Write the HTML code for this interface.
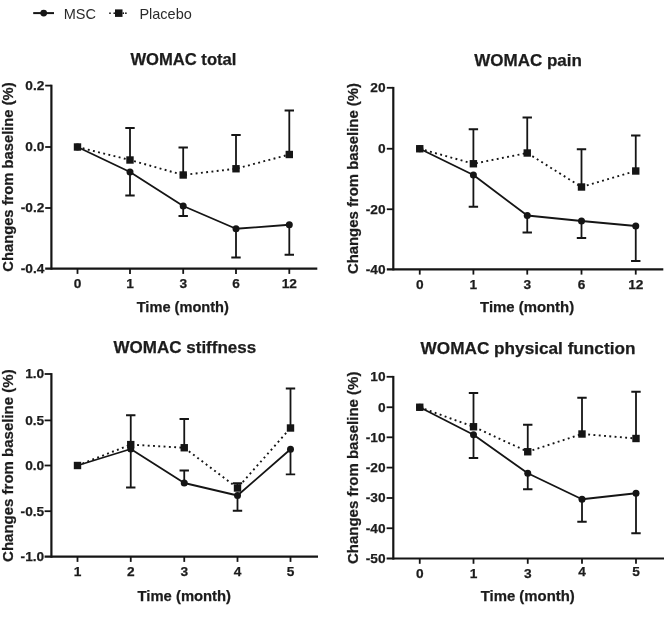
<!DOCTYPE html>
<html><head><meta charset="utf-8"><title>WOMAC changes from baseline</title>
<style>html,body{margin:0;padding:0;background:#fff;}body{width:672px;height:633px;overflow:hidden;font-family:"Liberation Sans",sans-serif;}svg{display:block;filter:blur(0.55px);}text{font-family:"Liberation Sans",sans-serif;fill:#1c1c1c;}text[font-weight=bold]{stroke:#1c1c1c;stroke-width:0.25px;}</style>
</head><body>
<svg width="672" height="633" viewBox="0 0 672 633">
<rect width="672" height="633" fill="#ffffff"/>
<g>
<line x1="33.2" y1="13.1" x2="54" y2="13.1" stroke="#151515" stroke-width="2"/>
<circle cx="43.7" cy="13.1" r="3.4" fill="#151515"/>
<text x="63.7" y="18.5" font-size="14.5" style="fill:#2b2b2b">MSC</text>
<circle cx="110.0" cy="13.2" r="0.85" fill="#151515"/>
<circle cx="114.2" cy="13.2" r="0.85" fill="#151515"/>
<circle cx="123.3" cy="13.2" r="0.85" fill="#151515"/>
<circle cx="125.9" cy="13.2" r="0.85" fill="#151515"/>
<rect x="115" y="9.4" width="7.5" height="7.5" fill="#151515"/>
<text x="139.4" y="18.5" font-size="14.5" style="fill:#2b2b2b">Placebo</text>
</g>
<g>
<text x="183.4" y="65" font-size="16.6" font-weight="bold" text-anchor="middle">WOMAC total</text>
<text x="182.8" y="311.7" font-size="14.6" font-weight="bold" text-anchor="middle">Time (month)</text>
<text transform="translate(13.4 177.05) rotate(-90)" font-size="14.75" font-weight="bold" text-anchor="middle">Changes from baseline (%)</text>
<path d="M51.4 84.7 V269.7" stroke="#151515" stroke-width="2.2" fill="none"/>
<path d="M45.2 268.6 H317.3" stroke="#151515" stroke-width="2.2" fill="none"/>
<path d="M45.2 85.6 H51.4" stroke="#151515" stroke-width="1.8" fill="none"/>
<text x="44.4" y="90.0" font-size="13.7" font-weight="bold" text-anchor="end">0.2</text>
<path d="M45.2 147 H51.4" stroke="#151515" stroke-width="1.8" fill="none"/>
<text x="44.4" y="151.4" font-size="13.7" font-weight="bold" text-anchor="end">0.0</text>
<path d="M45.2 208 H51.4" stroke="#151515" stroke-width="1.8" fill="none"/>
<text x="44.4" y="212.4" font-size="13.7" font-weight="bold" text-anchor="end">-0.2</text>
<text x="44.4" y="273.0" font-size="13.7" font-weight="bold" text-anchor="end">-0.4</text>
<path d="M77.5 268.6 V273.90000000000003" stroke="#151515" stroke-width="1.8" fill="none"/>
<text x="77.5" y="288.15" font-size="13.7" font-weight="bold" text-anchor="middle">0</text>
<path d="M130 268.6 V273.90000000000003" stroke="#151515" stroke-width="1.8" fill="none"/>
<text x="130" y="288.15" font-size="13.7" font-weight="bold" text-anchor="middle">1</text>
<path d="M183.2 268.6 V273.90000000000003" stroke="#151515" stroke-width="1.8" fill="none"/>
<text x="183.2" y="288.15" font-size="13.7" font-weight="bold" text-anchor="middle">3</text>
<path d="M236 268.6 V273.90000000000003" stroke="#151515" stroke-width="1.8" fill="none"/>
<text x="236" y="288.15" font-size="13.7" font-weight="bold" text-anchor="middle">6</text>
<path d="M289.3 268.6 V273.90000000000003" stroke="#151515" stroke-width="1.8" fill="none"/>
<text x="289.3" y="288.15" font-size="13.7" font-weight="bold" text-anchor="middle">12</text>
<path d="M130 160 V128 M125.3 128 H134.7" stroke="#151515" stroke-width="1.8" fill="none"/>
<path d="M183.2 175 V147.5 M178.5 147.5 H187.89999999999998" stroke="#151515" stroke-width="1.8" fill="none"/>
<path d="M236 168.75 V135 M231.3 135 H240.7" stroke="#151515" stroke-width="1.8" fill="none"/>
<path d="M289.3 154.5 V110.5 M284.6 110.5 H294.0" stroke="#151515" stroke-width="1.8" fill="none"/>
<path d="M130 172 V195.5 M125.3 195.5 H134.7" stroke="#151515" stroke-width="1.8" fill="none"/>
<path d="M183.2 206 V216 M178.5 216 H187.89999999999998" stroke="#151515" stroke-width="1.8" fill="none"/>
<path d="M236 228.75 V257.5 M231.3 257.5 H240.7" stroke="#151515" stroke-width="1.8" fill="none"/>
<path d="M289.3 224.75 V254.75 M284.6 254.75 H294.0" stroke="#151515" stroke-width="1.8" fill="none"/>
<polyline points="77.5,147 130,160 183.2,175 236,168.75 289.3,154.5" stroke="#151515" stroke-width="1.9" stroke-dasharray="1.9 3.4" fill="none"/>
<polyline points="77.5,147 130,172 183.2,206 236,228.75 289.3,224.75" stroke="#151515" stroke-width="1.8" stroke-linejoin="round" fill="none"/>
<circle cx="77.5" cy="147" r="3.5" fill="#151515"/>
<circle cx="130" cy="172" r="3.5" fill="#151515"/>
<circle cx="183.2" cy="206" r="3.5" fill="#151515"/>
<circle cx="236" cy="228.75" r="3.5" fill="#151515"/>
<circle cx="289.3" cy="224.75" r="3.5" fill="#151515"/>
<rect x="73.8" y="143.3" width="7.4" height="7.4" fill="#151515"/>
<rect x="126.3" y="156.3" width="7.4" height="7.4" fill="#151515"/>
<rect x="179.5" y="171.3" width="7.4" height="7.4" fill="#151515"/>
<rect x="232.3" y="165.05" width="7.4" height="7.4" fill="#151515"/>
<rect x="285.6" y="150.8" width="7.4" height="7.4" fill="#151515"/>
</g>
<g>
<text x="528.1" y="66.2" font-size="17" font-weight="bold" text-anchor="middle">WOMAC pain</text>
<text x="527.1" y="311.9" font-size="14.9" font-weight="bold" text-anchor="middle">Time (month)</text>
<text transform="translate(358.1 178.55) rotate(-90)" font-size="14.9" font-weight="bold" text-anchor="middle">Changes from baseline (%)</text>
<path d="M393.3 86.9 V270.4" stroke="#151515" stroke-width="2.2" fill="none"/>
<path d="M386.8 269.3 H663.3" stroke="#151515" stroke-width="2.2" fill="none"/>
<path d="M386.8 87.8 H393.3" stroke="#151515" stroke-width="1.8" fill="none"/>
<text x="385.6" y="92.2" font-size="13.7" font-weight="bold" text-anchor="end">20</text>
<path d="M386.8 148.75 H393.3" stroke="#151515" stroke-width="1.8" fill="none"/>
<text x="385.6" y="153.15" font-size="13.7" font-weight="bold" text-anchor="end">0</text>
<path d="M386.8 209.25 H393.3" stroke="#151515" stroke-width="1.8" fill="none"/>
<text x="385.6" y="213.65" font-size="13.7" font-weight="bold" text-anchor="end">-20</text>
<text x="385.6" y="273.7" font-size="13.7" font-weight="bold" text-anchor="end">-40</text>
<path d="M419.75 269.3 V274.6" stroke="#151515" stroke-width="1.8" fill="none"/>
<text x="419.75" y="288.85" font-size="13.7" font-weight="bold" text-anchor="middle">0</text>
<path d="M473.4 269.3 V274.6" stroke="#151515" stroke-width="1.8" fill="none"/>
<text x="473.4" y="288.85" font-size="13.7" font-weight="bold" text-anchor="middle">1</text>
<path d="M527.25 269.3 V274.6" stroke="#151515" stroke-width="1.8" fill="none"/>
<text x="527.25" y="288.85" font-size="13.7" font-weight="bold" text-anchor="middle">3</text>
<path d="M581.5 269.3 V274.6" stroke="#151515" stroke-width="1.8" fill="none"/>
<text x="581.5" y="288.85" font-size="13.7" font-weight="bold" text-anchor="middle">6</text>
<path d="M635.75 269.3 V274.6" stroke="#151515" stroke-width="1.8" fill="none"/>
<text x="635.75" y="288.85" font-size="13.7" font-weight="bold" text-anchor="middle">12</text>
<path d="M473.4 163.75 V129.25 M468.7 129.25 H478.09999999999997" stroke="#151515" stroke-width="1.8" fill="none"/>
<path d="M527.25 153 V117.5 M522.55 117.5 H531.95" stroke="#151515" stroke-width="1.8" fill="none"/>
<path d="M581.5 187 V149.25 M576.8 149.25 H586.2" stroke="#151515" stroke-width="1.8" fill="none"/>
<path d="M635.75 171 V135.5 M631.05 135.5 H640.45" stroke="#151515" stroke-width="1.8" fill="none"/>
<path d="M473.4 175 V206.75 M468.7 206.75 H478.09999999999997" stroke="#151515" stroke-width="1.8" fill="none"/>
<path d="M527.25 215.5 V232.5 M522.55 232.5 H531.95" stroke="#151515" stroke-width="1.8" fill="none"/>
<path d="M581.5 221 V238 M576.8 238 H586.2" stroke="#151515" stroke-width="1.8" fill="none"/>
<path d="M635.75 226 V261 M631.05 261 H640.45" stroke="#151515" stroke-width="1.8" fill="none"/>
<polyline points="419.75,148.75 473.4,163.75 527.25,153 581.5,187 635.75,171" stroke="#151515" stroke-width="1.9" stroke-dasharray="1.9 3.4" fill="none"/>
<polyline points="419.75,148.75 473.4,175 527.25,215.5 581.5,221 635.75,226" stroke="#151515" stroke-width="1.8" stroke-linejoin="round" fill="none"/>
<circle cx="419.75" cy="148.75" r="3.5" fill="#151515"/>
<circle cx="473.4" cy="175" r="3.5" fill="#151515"/>
<circle cx="527.25" cy="215.5" r="3.5" fill="#151515"/>
<circle cx="581.5" cy="221" r="3.5" fill="#151515"/>
<circle cx="635.75" cy="226" r="3.5" fill="#151515"/>
<rect x="416.05" y="145.05" width="7.4" height="7.4" fill="#151515"/>
<rect x="469.7" y="160.05" width="7.4" height="7.4" fill="#151515"/>
<rect x="523.55" y="149.3" width="7.4" height="7.4" fill="#151515"/>
<rect x="577.8" y="183.3" width="7.4" height="7.4" fill="#151515"/>
<rect x="632.05" y="167.3" width="7.4" height="7.4" fill="#151515"/>
</g>
<g>
<text x="184.9" y="353" font-size="17" font-weight="bold" text-anchor="middle">WOMAC stiffness</text>
<text x="184.3" y="600.5" font-size="14.8" font-weight="bold" text-anchor="middle">Time (month)</text>
<text transform="translate(12.5 465.65) rotate(-90)" font-size="15.0" font-weight="bold" text-anchor="middle">Changes from baseline (%)</text>
<path d="M51.4 373.1 V557.7" stroke="#151515" stroke-width="2.2" fill="none"/>
<path d="M44.6 556.6 H318" stroke="#151515" stroke-width="2.2" fill="none"/>
<path d="M44.6 374 H51.4" stroke="#151515" stroke-width="1.8" fill="none"/>
<text x="44.2" y="378.4" font-size="13.7" font-weight="bold" text-anchor="end">1.0</text>
<path d="M44.6 420.4 H51.4" stroke="#151515" stroke-width="1.8" fill="none"/>
<text x="44.2" y="424.8" font-size="13.7" font-weight="bold" text-anchor="end">0.5</text>
<path d="M44.6 465.5 H51.4" stroke="#151515" stroke-width="1.8" fill="none"/>
<text x="44.2" y="469.9" font-size="13.7" font-weight="bold" text-anchor="end">0.0</text>
<path d="M44.6 511.2 H51.4" stroke="#151515" stroke-width="1.8" fill="none"/>
<text x="44.2" y="515.6" font-size="13.7" font-weight="bold" text-anchor="end">-0.5</text>
<text x="44.2" y="561.0" font-size="13.7" font-weight="bold" text-anchor="end">-1.0</text>
<path d="M77.5 556.6 V561.9" stroke="#151515" stroke-width="1.8" fill="none"/>
<text x="77.5" y="576.15" font-size="13.7" font-weight="bold" text-anchor="middle">1</text>
<path d="M130.75 556.6 V561.9" stroke="#151515" stroke-width="1.8" fill="none"/>
<text x="130.75" y="576.15" font-size="13.7" font-weight="bold" text-anchor="middle">2</text>
<path d="M184.25 556.6 V561.9" stroke="#151515" stroke-width="1.8" fill="none"/>
<text x="184.25" y="576.15" font-size="13.7" font-weight="bold" text-anchor="middle">3</text>
<path d="M237.5 556.6 V561.9" stroke="#151515" stroke-width="1.8" fill="none"/>
<text x="237.5" y="576.15" font-size="13.7" font-weight="bold" text-anchor="middle">4</text>
<path d="M290.5 556.6 V561.9" stroke="#151515" stroke-width="1.8" fill="none"/>
<text x="290.5" y="576.15" font-size="13.7" font-weight="bold" text-anchor="middle">5</text>
<path d="M130.75 444.6 V415.25 M126.05 415.25 H135.45" stroke="#151515" stroke-width="1.8" fill="none"/>
<path d="M184.25 447.75 V419 M179.55 419 H188.95" stroke="#151515" stroke-width="1.8" fill="none"/>
<path d="M237.5 488 V483.25 M232.8 483.25 H242.2" stroke="#151515" stroke-width="1.8" fill="none"/>
<path d="M290.5 428 V388.5 M285.8 388.5 H295.2" stroke="#151515" stroke-width="1.8" fill="none"/>
<path d="M130.75 449 V487.5 M126.05 487.5 H135.45" stroke="#151515" stroke-width="1.8" fill="none"/>
<path d="M184.25 483 V470.5 M179.55 470.5 H188.95" stroke="#151515" stroke-width="1.8" fill="none"/>
<path d="M237.5 495.5 V510.75 M232.8 510.75 H242.2" stroke="#151515" stroke-width="1.8" fill="none"/>
<path d="M290.5 449.25 V474.4 M285.8 474.4 H295.2" stroke="#151515" stroke-width="1.8" fill="none"/>
<polyline points="77.5,465.5 130.75,444.6 184.25,447.75 237.5,488 290.5,428" stroke="#151515" stroke-width="1.9" stroke-dasharray="1.9 3.4" fill="none"/>
<polyline points="77.5,465.5 130.75,449 184.25,483 237.5,495.5 290.5,449.25" stroke="#151515" stroke-width="1.8" stroke-linejoin="round" fill="none"/>
<circle cx="77.5" cy="465.5" r="3.5" fill="#151515"/>
<circle cx="130.75" cy="449" r="3.5" fill="#151515"/>
<circle cx="184.25" cy="483" r="3.5" fill="#151515"/>
<circle cx="237.5" cy="495.5" r="3.5" fill="#151515"/>
<circle cx="290.5" cy="449.25" r="3.5" fill="#151515"/>
<rect x="73.8" y="461.8" width="7.4" height="7.4" fill="#151515"/>
<rect x="127.05" y="440.9" width="7.4" height="7.4" fill="#151515"/>
<rect x="180.55" y="444.05" width="7.4" height="7.4" fill="#151515"/>
<rect x="233.8" y="484.3" width="7.4" height="7.4" fill="#151515"/>
<rect x="286.8" y="424.3" width="7.4" height="7.4" fill="#151515"/>
</g>
<g>
<text x="528.0" y="353.5" font-size="17.2" font-weight="bold" text-anchor="middle">WOMAC physical function</text>
<text x="527.75" y="600.5" font-size="14.9" font-weight="bold" text-anchor="middle">Time (month)</text>
<text transform="translate(358.1 467.85) rotate(-90)" font-size="15.0" font-weight="bold" text-anchor="middle">Changes from baseline (%)</text>
<path d="M393.3 375.9 V559.6" stroke="#151515" stroke-width="2.2" fill="none"/>
<path d="M386.6 558.5 H664" stroke="#151515" stroke-width="2.2" fill="none"/>
<path d="M386.6 376.8 H393.3" stroke="#151515" stroke-width="1.8" fill="none"/>
<text x="385.6" y="381.2" font-size="13.7" font-weight="bold" text-anchor="end">10</text>
<path d="M386.6 407.25 H393.3" stroke="#151515" stroke-width="1.8" fill="none"/>
<text x="385.6" y="411.65" font-size="13.7" font-weight="bold" text-anchor="end">0</text>
<path d="M386.6 437.3 H393.3" stroke="#151515" stroke-width="1.8" fill="none"/>
<text x="385.6" y="441.7" font-size="13.7" font-weight="bold" text-anchor="end">-10</text>
<path d="M386.6 467.6 H393.3" stroke="#151515" stroke-width="1.8" fill="none"/>
<text x="385.6" y="472.0" font-size="13.7" font-weight="bold" text-anchor="end">-20</text>
<path d="M386.6 498 H393.3" stroke="#151515" stroke-width="1.8" fill="none"/>
<text x="385.6" y="502.4" font-size="13.7" font-weight="bold" text-anchor="end">-30</text>
<path d="M386.6 528.25 H393.3" stroke="#151515" stroke-width="1.8" fill="none"/>
<text x="385.6" y="532.65" font-size="13.7" font-weight="bold" text-anchor="end">-40</text>
<text x="385.6" y="562.9" font-size="13.7" font-weight="bold" text-anchor="end">-50</text>
<path d="M419.75 558.5 V563.8" stroke="#151515" stroke-width="1.8" fill="none"/>
<text x="419.75" y="578.05" font-size="13.7" font-weight="bold" text-anchor="middle">0</text>
<path d="M473.5 558.5 V563.8" stroke="#151515" stroke-width="1.8" fill="none"/>
<text x="473.5" y="578.05" font-size="13.7" font-weight="bold" text-anchor="middle">1</text>
<path d="M527.75 558.5 V563.8" stroke="#151515" stroke-width="1.8" fill="none"/>
<text x="527.75" y="578.05" font-size="13.7" font-weight="bold" text-anchor="middle">3</text>
<path d="M582 558.5 V563.8" stroke="#151515" stroke-width="1.8" fill="none"/>
<text x="582" y="576.05" font-size="13.7" font-weight="bold" text-anchor="middle">4</text>
<path d="M636 558.5 V563.8" stroke="#151515" stroke-width="1.8" fill="none"/>
<text x="636" y="576.05" font-size="13.7" font-weight="bold" text-anchor="middle">5</text>
<path d="M473.5 426.75 V393 M468.8 393 H478.2" stroke="#151515" stroke-width="1.8" fill="none"/>
<path d="M527.75 451.75 V424.75 M523.05 424.75 H532.45" stroke="#151515" stroke-width="1.8" fill="none"/>
<path d="M582 434 V397.75 M577.3 397.75 H586.7" stroke="#151515" stroke-width="1.8" fill="none"/>
<path d="M636 438.5 V391.75 M631.3 391.75 H640.7" stroke="#151515" stroke-width="1.8" fill="none"/>
<path d="M473.5 434.75 V458 M468.8 458 H478.2" stroke="#151515" stroke-width="1.8" fill="none"/>
<path d="M527.75 473.25 V489.25 M523.05 489.25 H532.45" stroke="#151515" stroke-width="1.8" fill="none"/>
<path d="M582 499.25 V521.75 M577.3 521.75 H586.7" stroke="#151515" stroke-width="1.8" fill="none"/>
<path d="M636 493.25 V533.25 M631.3 533.25 H640.7" stroke="#151515" stroke-width="1.8" fill="none"/>
<polyline points="419.75,407.25 473.5,426.75 527.75,451.75 582,434 636,438.5" stroke="#151515" stroke-width="1.9" stroke-dasharray="1.9 3.4" fill="none"/>
<polyline points="419.75,407.25 473.5,434.75 527.75,473.25 582,499.25 636,493.25" stroke="#151515" stroke-width="1.8" stroke-linejoin="round" fill="none"/>
<circle cx="419.75" cy="407.25" r="3.5" fill="#151515"/>
<circle cx="473.5" cy="434.75" r="3.5" fill="#151515"/>
<circle cx="527.75" cy="473.25" r="3.5" fill="#151515"/>
<circle cx="582" cy="499.25" r="3.5" fill="#151515"/>
<circle cx="636" cy="493.25" r="3.5" fill="#151515"/>
<rect x="416.05" y="403.55" width="7.4" height="7.4" fill="#151515"/>
<rect x="469.8" y="423.05" width="7.4" height="7.4" fill="#151515"/>
<rect x="524.05" y="448.05" width="7.4" height="7.4" fill="#151515"/>
<rect x="578.3" y="430.3" width="7.4" height="7.4" fill="#151515"/>
<rect x="632.3" y="434.8" width="7.4" height="7.4" fill="#151515"/>
</g>
</svg>
</body></html>
